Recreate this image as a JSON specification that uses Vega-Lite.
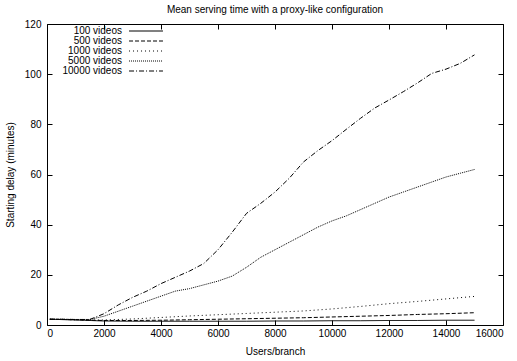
{
  "$schema": "https://vega.github.io/schema/vega-lite/v6.json",
  "width": 456,
  "height": 301,
  "autosize": {"type": "none"},
  "padding": {"left": 47, "top": 24, "right": 14, "bottom": 36},
  "background": "white",
  "title": {"text": "Mean serving time with a proxy-like configuration", "fontSize": 10, "fontWeight": "normal", "font": "Liberation Sans", "color": "black", "offset": 4, "anchor": "middle"},
  "config": {
    "font": "Liberation Sans",
    "view": {"stroke": "black", "strokeWidth": 1},
    "axis": {"labelFont": "Liberation Sans", "titleFont": "Liberation Sans", "labelFontSize": 10, "titleFontSize": 10, "titleFontWeight": "normal", "labelColor": "black", "titleColor": "black", "grid": false, "domain": false, "tickColor": "black", "tickSize": -5}
  },
  "data": {"values": [
    {"series": "100 videos", "users": 100, "delay": 2.3},
    {"series": "100 videos", "users": 1000, "delay": 2.0},
    {"series": "100 videos", "users": 1500, "delay": 1.8},
    {"series": "100 videos", "users": 2000, "delay": 1.6},
    {"series": "100 videos", "users": 3000, "delay": 1.5},
    {"series": "100 videos", "users": 4000, "delay": 1.5},
    {"series": "100 videos", "users": 5000, "delay": 1.5},
    {"series": "100 videos", "users": 6000, "delay": 1.5},
    {"series": "100 videos", "users": 7000, "delay": 1.5},
    {"series": "100 videos", "users": 8000, "delay": 1.6},
    {"series": "100 videos", "users": 9000, "delay": 1.6},
    {"series": "100 videos", "users": 10000, "delay": 1.7},
    {"series": "100 videos", "users": 11000, "delay": 1.7},
    {"series": "100 videos", "users": 12000, "delay": 1.8},
    {"series": "100 videos", "users": 13000, "delay": 1.8},
    {"series": "100 videos", "users": 14000, "delay": 1.9},
    {"series": "100 videos", "users": 15000, "delay": 1.9},
    {"series": "500 videos", "users": 100, "delay": 2.3},
    {"series": "500 videos", "users": 1000, "delay": 2.1},
    {"series": "500 videos", "users": 1500, "delay": 1.9},
    {"series": "500 videos", "users": 2000, "delay": 1.8},
    {"series": "500 videos", "users": 3000, "delay": 1.8},
    {"series": "500 videos", "users": 4000, "delay": 1.9},
    {"series": "500 videos", "users": 5000, "delay": 2.1},
    {"series": "500 videos", "users": 6000, "delay": 2.3},
    {"series": "500 videos", "users": 7000, "delay": 2.5},
    {"series": "500 videos", "users": 8000, "delay": 2.7},
    {"series": "500 videos", "users": 9000, "delay": 2.9},
    {"series": "500 videos", "users": 10000, "delay": 3.2},
    {"series": "500 videos", "users": 11000, "delay": 3.5},
    {"series": "500 videos", "users": 12000, "delay": 3.8},
    {"series": "500 videos", "users": 13000, "delay": 4.2},
    {"series": "500 videos", "users": 14000, "delay": 4.5},
    {"series": "500 videos", "users": 15000, "delay": 4.9},
    {"series": "1000 videos", "users": 100, "delay": 2.3},
    {"series": "1000 videos", "users": 1000, "delay": 2.1},
    {"series": "1000 videos", "users": 1500, "delay": 2.0},
    {"series": "1000 videos", "users": 2000, "delay": 2.0},
    {"series": "1000 videos", "users": 3000, "delay": 2.4},
    {"series": "1000 videos", "users": 4000, "delay": 3.0},
    {"series": "1000 videos", "users": 5000, "delay": 3.6},
    {"series": "1000 videos", "users": 6000, "delay": 4.1},
    {"series": "1000 videos", "users": 7000, "delay": 4.6},
    {"series": "1000 videos", "users": 8000, "delay": 5.1},
    {"series": "1000 videos", "users": 9000, "delay": 5.6},
    {"series": "1000 videos", "users": 10000, "delay": 6.4},
    {"series": "1000 videos", "users": 11000, "delay": 7.4},
    {"series": "1000 videos", "users": 12000, "delay": 8.5},
    {"series": "1000 videos", "users": 13000, "delay": 9.4},
    {"series": "1000 videos", "users": 14000, "delay": 10.4},
    {"series": "1000 videos", "users": 15000, "delay": 11.4},
    {"series": "5000 videos", "users": 100, "delay": 2.3},
    {"series": "5000 videos", "users": 500, "delay": 2.3},
    {"series": "5000 videos", "users": 1000, "delay": 2.2},
    {"series": "5000 videos", "users": 1500, "delay": 2.2},
    {"series": "5000 videos", "users": 2000, "delay": 3.5},
    {"series": "5000 videos", "users": 2500, "delay": 5.5},
    {"series": "5000 videos", "users": 3000, "delay": 7.5},
    {"series": "5000 videos", "users": 3500, "delay": 9.5},
    {"series": "5000 videos", "users": 4000, "delay": 11.5},
    {"series": "5000 videos", "users": 4500, "delay": 13.5},
    {"series": "5000 videos", "users": 5000, "delay": 14.5},
    {"series": "5000 videos", "users": 5500, "delay": 16},
    {"series": "5000 videos", "users": 6000, "delay": 17.5},
    {"series": "5000 videos", "users": 6500, "delay": 19.5},
    {"series": "5000 videos", "users": 7000, "delay": 23},
    {"series": "5000 videos", "users": 7500, "delay": 27},
    {"series": "5000 videos", "users": 8000, "delay": 30},
    {"series": "5000 videos", "users": 8500, "delay": 33},
    {"series": "5000 videos", "users": 9000, "delay": 36},
    {"series": "5000 videos", "users": 9500, "delay": 39},
    {"series": "5000 videos", "users": 10000, "delay": 41.5},
    {"series": "5000 videos", "users": 10500, "delay": 43.5},
    {"series": "5000 videos", "users": 11000, "delay": 46},
    {"series": "5000 videos", "users": 11500, "delay": 48.5},
    {"series": "5000 videos", "users": 12000, "delay": 51},
    {"series": "5000 videos", "users": 12500, "delay": 53},
    {"series": "5000 videos", "users": 13000, "delay": 55},
    {"series": "5000 videos", "users": 13500, "delay": 57},
    {"series": "5000 videos", "users": 14000, "delay": 59},
    {"series": "5000 videos", "users": 14500, "delay": 60.5},
    {"series": "5000 videos", "users": 15000, "delay": 62},
    {"series": "10000 videos", "users": 100, "delay": 2.3},
    {"series": "10000 videos", "users": 500, "delay": 2.3},
    {"series": "10000 videos", "users": 1000, "delay": 2.2},
    {"series": "10000 videos", "users": 1500, "delay": 2.2},
    {"series": "10000 videos", "users": 2000, "delay": 4.5},
    {"series": "10000 videos", "users": 2500, "delay": 8},
    {"series": "10000 videos", "users": 3000, "delay": 11},
    {"series": "10000 videos", "users": 3500, "delay": 13.5},
    {"series": "10000 videos", "users": 4000, "delay": 16.5},
    {"series": "10000 videos", "users": 4500, "delay": 19},
    {"series": "10000 videos", "users": 5000, "delay": 21.5},
    {"series": "10000 videos", "users": 5500, "delay": 24.5},
    {"series": "10000 videos", "users": 6000, "delay": 30},
    {"series": "10000 videos", "users": 6500, "delay": 37},
    {"series": "10000 videos", "users": 7000, "delay": 44.5},
    {"series": "10000 videos", "users": 7500, "delay": 48.5},
    {"series": "10000 videos", "users": 8000, "delay": 53},
    {"series": "10000 videos", "users": 8500, "delay": 58.5},
    {"series": "10000 videos", "users": 9000, "delay": 65},
    {"series": "10000 videos", "users": 9500, "delay": 69.5},
    {"series": "10000 videos", "users": 10000, "delay": 73.5},
    {"series": "10000 videos", "users": 10500, "delay": 78},
    {"series": "10000 videos", "users": 11000, "delay": 82.4},
    {"series": "10000 videos", "users": 11500, "delay": 86.5},
    {"series": "10000 videos", "users": 12000, "delay": 89.7},
    {"series": "10000 videos", "users": 12500, "delay": 93},
    {"series": "10000 videos", "users": 13000, "delay": 96.5},
    {"series": "10000 videos", "users": 13500, "delay": 100.3},
    {"series": "10000 videos", "users": 14000, "delay": 102},
    {"series": "10000 videos", "users": 14500, "delay": 104.3},
    {"series": "10000 videos", "users": 15000, "delay": 107.7}
  ]},
  "layer": [
    {
      "mark": {"type": "line", "strokeWidth": 1, "color": "black"},
      "encoding": {
        "x": {"field": "users", "type": "quantitative", "scale": {"domain": [0, 16000], "nice": false},
              "axis": {"title": "Users/branch", "format": "d", "values": [0,2000,4000,6000,8000,10000,12000,14000,16000], "labelPadding": 8, "titleY": 29, "titleBaseline": "alphabetic"}},
        "y": {"field": "delay", "type": "quantitative", "scale": {"domain": [0, 120], "nice": false},
              "axis": {"title": "Starting delay (minutes)", "values": [0,20,40,60,80,100,120], "labelPadding": 11, "titleX": -32}},
        "strokeDash": {"field": "series", "type": "nominal",
          "scale": {"domain": ["100 videos", "500 videos", "1000 videos", "5000 videos", "10000 videos"],
                    "range": [[1,0],[4,2],[1,3],[1,1],[5,2,1,2]]},
          "legend": {"title": null, "orient": "none", "legendX": 94, "legendY": 2, "symbolType": "M-4,0H4", "symbolSize": 72, "symbolStrokeWidth": 1, "symbolStrokeColor": "black", "symbolFillColor": "transparent", "labelAlign": "right", "labelOffset": -29, "labelFontSize": 10, "labelFont": "Liberation Sans", "labelColor": "black", "rowPadding": -2}
        },
        "detail": {"field": "series"}
      }
    },
    {
      "mark": {"type": "line", "strokeWidth": 0, "opacity": 0},
      "encoding": {
        "x": {"field": "users", "type": "quantitative", "axis": {"orient": "top", "labels": false, "title": null, "values": [0,2000,4000,6000,8000,10000,12000,14000,16000]}},
        "y": {"field": "delay", "type": "quantitative", "axis": {"orient": "right", "labels": false, "title": null, "values": [0,20,40,60,80,100,120]}},
        "detail": {"field": "series"}
      }
    }
  ],
  "resolve": {"axis": {"x": "independent", "y": "independent"}}
}
